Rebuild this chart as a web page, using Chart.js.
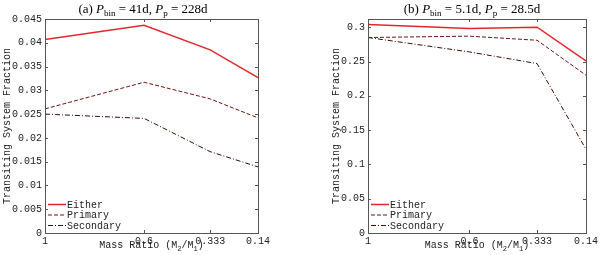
<!DOCTYPE html>
<html lang="en">
<head>
<meta charset="UTF-8">
<title>Transiting System Fraction vs Mass Ratio</title>
<style>
  body { margin: 0; background: #fff; }
  .panel { position: absolute; top: 0; width: 300px; height: 255px; }
</style>
</head>
<body>
<div class="panel" style="left:0"><canvas id="chartA" width="300" height="255"></canvas></div>
<div class="panel" style="left:300px"><canvas id="chartB" width="300" height="255"></canvas></div>

<script src="https://cdn.jsdelivr.net/npm/chart.js"></script>
<script>
  // mass ratio M2/M1, axis runs from 1 down to 0.14
  const massRatio = [1, 0.6, 0.333, 0.14];
  const xTickLabels = ['1', '0.6', '0.333', '0.14'];
  const seriesNames = ['Either', 'Primary', 'Secondary'];

  // (a) Pbin = 41d, Pp = 228d
  const eitherA = [0.0407, 0.0437, 0.0385, 0.0327];
  const primaryA = [0.0261, 0.0317, 0.0282, 0.0242];
  const secondaryA = [0.0250, 0.0241, 0.0171, 0.0139];
  const yTicksA = [0, 0.005, 0.01, 0.015, 0.02, 0.025, 0.03, 0.035, 0.04, 0.045];

  // (b) Pbin = 5.1d, Pp = 28.5d
  const eitherB = [0.304, 0.298, 0.300, 0.251];
  const primaryB = [0.285, 0.287, 0.281, 0.230];
  const secondaryB = [0.285, 0.264, 0.247, 0.122];
  const yTicksB = [0, 0.05, 0.1, 0.15, 0.2, 0.25, 0.3];

  const lineColors = ['#e3262d', '#6e1212', '#3a0c0c'];
  const lineDashes = [[], [4, 2], [5, 2, 1, 2]];
  const lineWidths = [1.5, 1, 1];

  const MONO = '"Liberation Mono", "DejaVu Sans Mono", monospace';
  const SERIF = '"Liberation Serif", "DejaVu Serif", serif';

  // draw a list of text pieces (with sub/italic) centred on cx
  function drawRich(ctx, segs, cx, baseline) {
    let total = 0;
    segs.forEach(s => { ctx.font = s.font; s.w = ctx.measureText(s.text).width; total += s.w; });
    let x = cx - total / 2;
    ctx.textAlign = 'left';
    ctx.textBaseline = 'alphabetic';
    segs.forEach(s => {
      ctx.font = s.font;
      ctx.fillText(s.text, x, baseline + (s.dy || 0));
      x += s.w;
    });
  }

  const decoPlugin = {
    id: 'deco',
    afterDraw(chart, args, o) {
      const ctx = chart.ctx, a = chart.chartArea;
      const xs = chart.scales.x, ys = chart.scales.y;
      ctx.save();

      // box + inward ticks
      ctx.strokeStyle = '#555';
      ctx.lineWidth = 1;
      ctx.setLineDash([]);
      ctx.strokeRect(a.left + 0.5, a.top + 0.5, a.right - a.left, a.bottom - a.top);
      ctx.beginPath();
      xs.ticks.forEach(t => {
        const x = Math.round(xs.getPixelForValue(t.value)) + 0.5;
        ctx.moveTo(x, a.bottom); ctx.lineTo(x, a.bottom - 3);
        ctx.moveTo(x, a.top); ctx.lineTo(x, a.top + 3);
      });
      ys.ticks.forEach(t => {
        const y = Math.round(ys.getPixelForValue(t.value)) + 0.5;
        ctx.moveTo(a.left, y); ctx.lineTo(a.left + 3, y);
        ctx.moveTo(a.right, y); ctx.lineTo(a.right - 3, y);
      });
      ctx.stroke();

      // legend in lower left corner
      chart.data.datasets.forEach((ds, i) => {
        const y = a.bottom - 28.5 + i * 10.5;
        ctx.beginPath();
        ctx.strokeStyle = ds.borderColor;
        ctx.lineWidth = ds.borderWidth;
        ctx.setLineDash(ds.borderDash);
        ctx.moveTo(a.left + 3, y);
        ctx.lineTo(a.left + 21, y);
        ctx.stroke();
        ctx.setLineDash([]);
        ctx.fillStyle = '#222';
        ctx.font = '10px ' + MONO;
        ctx.textAlign = 'left';
        ctx.textBaseline = 'middle';
        ctx.fillText(ds.label, a.left + 22, y + 0.5);
      });

      // y axis title
      ctx.save();
      ctx.translate(o.yTitleX, (a.top + a.bottom) / 2);
      ctx.rotate(-Math.PI / 2);
      ctx.fillStyle = '#222';
      ctx.font = '10px ' + MONO;
      ctx.textAlign = 'center';
      ctx.textBaseline = 'middle';
      ctx.fillText('Transiting System Fraction', 0, 0);
      ctx.restore();

      // x axis title
      ctx.fillStyle = '#222';
      const m = '10px ' + MONO, sub = '7px ' + MONO;
      drawRich(ctx, [
        { text: 'Mass Ratio (M', font: m },
        { text: '2', font: sub, dy: 3 },
        { text: '/M', font: m },
        { text: '1', font: sub, dy: 3 },
        { text: ')', font: m }
      ], (a.left + a.right) / 2, 248);

      // panel title
      ctx.fillStyle = '#000';
      const n = '13px ' + SERIF, it = 'italic 13px ' + SERIF, s = '9px ' + SERIF;
      drawRich(ctx, [
        { text: o.label + ' ', font: n },
        { text: 'P', font: it },
        { text: 'bin', font: s, dy: 3 },
        { text: ' = ' + o.pbin + ', ', font: n },
        { text: 'P', font: it },
        { text: 'p', font: s, dy: 3 },
        { text: ' = ' + o.pp, font: n }
      ], o.titleX, 13);

      ctx.restore();
    }
  };

  function makeChart(id, series, yTicks, yMax, opt) {
    const datasets = series.map((vals, i) => ({
      label: seriesNames[i],
      data: massRatio.map((q, j) => ({ x: q, y: vals[j] })),
      borderColor: lineColors[i],
      borderWidth: lineWidths[i],
      borderDash: lineDashes[i],
      pointRadius: 0,
      fill: false,
      tension: 0
    }));

    new Chart(document.getElementById(id), {
      type: 'line',
      data: { datasets: datasets },
      options: {
        responsive: false,
        animation: false,
        layout: { padding: { left: 0, top: 19, right: opt.padRight, bottom: 0 } },
        plugins: {
          legend: { display: false },
          tooltip: { enabled: false },
          deco: opt
        },
        scales: {
          x: {
            type: 'linear',
            reverse: true,
            min: 0.14,
            max: 1,
            afterBuildTicks: s => { s.ticks = massRatio.map(v => ({ value: v })); },
            afterFit: s => { s.height = 22; },
            grid: { display: false, drawTicks: false },
            border: { display: false },
            ticks: {
              autoSkip: false,
              maxRotation: 0,
              padding: 2,
              color: '#222',
              font: { family: MONO, size: 10 },
              callback: v => xTickLabels[massRatio.indexOf(v)]
            }
          },
          y: {
            min: 0,
            max: yMax,
            afterBuildTicks: s => { s.ticks = yTicks.map(v => ({ value: v })); },
            afterFit: s => { s.width = opt.axisWidth; },
            grid: { display: false, drawTicks: false },
            border: { display: false },
            ticks: {
              padding: 3,
              color: '#222',
              font: { family: MONO, size: 10 },
              callback: v => String(v)
            }
          }
        }
      },
      plugins: [decoPlugin]
    });
  }

  makeChart('chartA', [eitherA, primaryA, secondaryA], yTicksA, 0.045,
    { label: '(a)', pbin: '41d', pp: '228d', titleX: 143, yTitleX: 7, axisWidth: 45, padRight: 42 });
  makeChart('chartB', [eitherB, primaryB, secondaryB], yTicksB, 0.312,
    { label: '(b)', pbin: '5.1d', pp: '28.5d', titleX: 172, yTitleX: 36, axisWidth: 68, padRight: 12 });
</script>
</body>
</html>
